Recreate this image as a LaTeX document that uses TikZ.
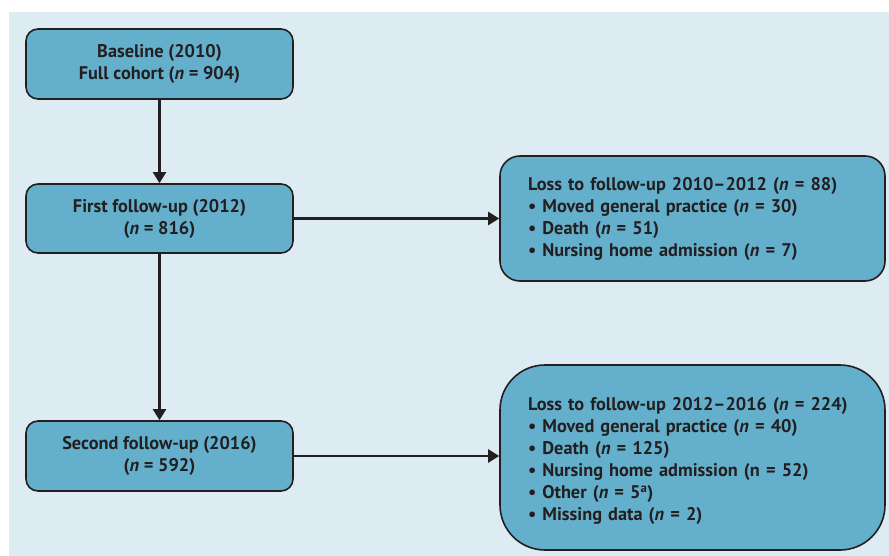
\documentclass[tikz,border=0pt]{standalone}
\usepackage{fontspec}
\setmainfont{PT Sans}
\usetikzlibrary{arrows.meta,positioning}
\definecolor{bgblue}{RGB}{221,235,242}
\definecolor{boxblue}{RGB}{100,176,204}
\definecolor{ink}{RGB}{35,31,32}
\tikzset{
  flowbox/.style={draw=ink, line width=1.6pt, fill=boxblue, rounded corners=12pt,
    text=ink, font=\bfseries\fontsize{18.3}{22}\selectfont, align=center, inner sep=0pt},
  lossbox/.style={flowbox, align=left},
  conn/.style={draw=ink, line width=2.2pt, -{Triangle[length=11pt,width=13pt]}}
}
\begin{document}
\begin{tikzpicture}[x=1pt,y=-1pt]
\useasboundingbox (0,0) rectangle (889,556);
\fill[bgblue] (9,12) rectangle (889,556);
\node[flowbox, minimum width=267pt, minimum height=70pt] (b1) at (159.5,64) {Baseline (2010)\\Full cohort (\textit{n} = 904)};
\node[flowbox, minimum width=267pt, minimum height=69pt] (b2) at (159.5,218.5) {First follow-up (2012)\\(\textit{n} = 816)};
\node[flowbox, minimum width=267pt, minimum height=70pt] (b3) at (159.5,456) {Second follow-up (2016)\\(\textit{n} = 592)};
\node[lossbox, rounded corners=20pt, minimum width=385pt, minimum height=125pt, text width=329pt] (l1) at (692.5,218.5) {Loss to follow-up 2010--2012 (\textit{n} = 88)\\
\textbullet\ Moved general practice (\textit{n} = 30)\\
\textbullet\ Death (\textit{n} = 51)\\
\textbullet\ Nursing home admission (\textit{n} = 7)};
\node[lossbox, rounded corners=45pt, minimum width=385pt, minimum height=185pt, text width=329pt] (l2) at (692.5,457.5) {\rule{0pt}{21pt}Loss to follow-up 2012--2016 (\textit{n} = 224)\\
\textbullet\ Moved general practice (\textit{n} = 40)\\
\textbullet\ Death (\textit{n} = 125)\\
\textbullet\ Nursing home admission (n = 52)\\
\textbullet\ Other (\textit{n} = 5\textsuperscript{a})\\
\textbullet\ Missing data (\textit{n} = 2)};
\draw[conn] (b1) -- (b2);
\draw[conn] (b2) -- (b3);
\draw[conn] (b2.east) -- (l1.west |- b2.east);
\draw[conn] (b3.east) -- (l2.west |- b3.east);
\end{tikzpicture}
\end{document}
